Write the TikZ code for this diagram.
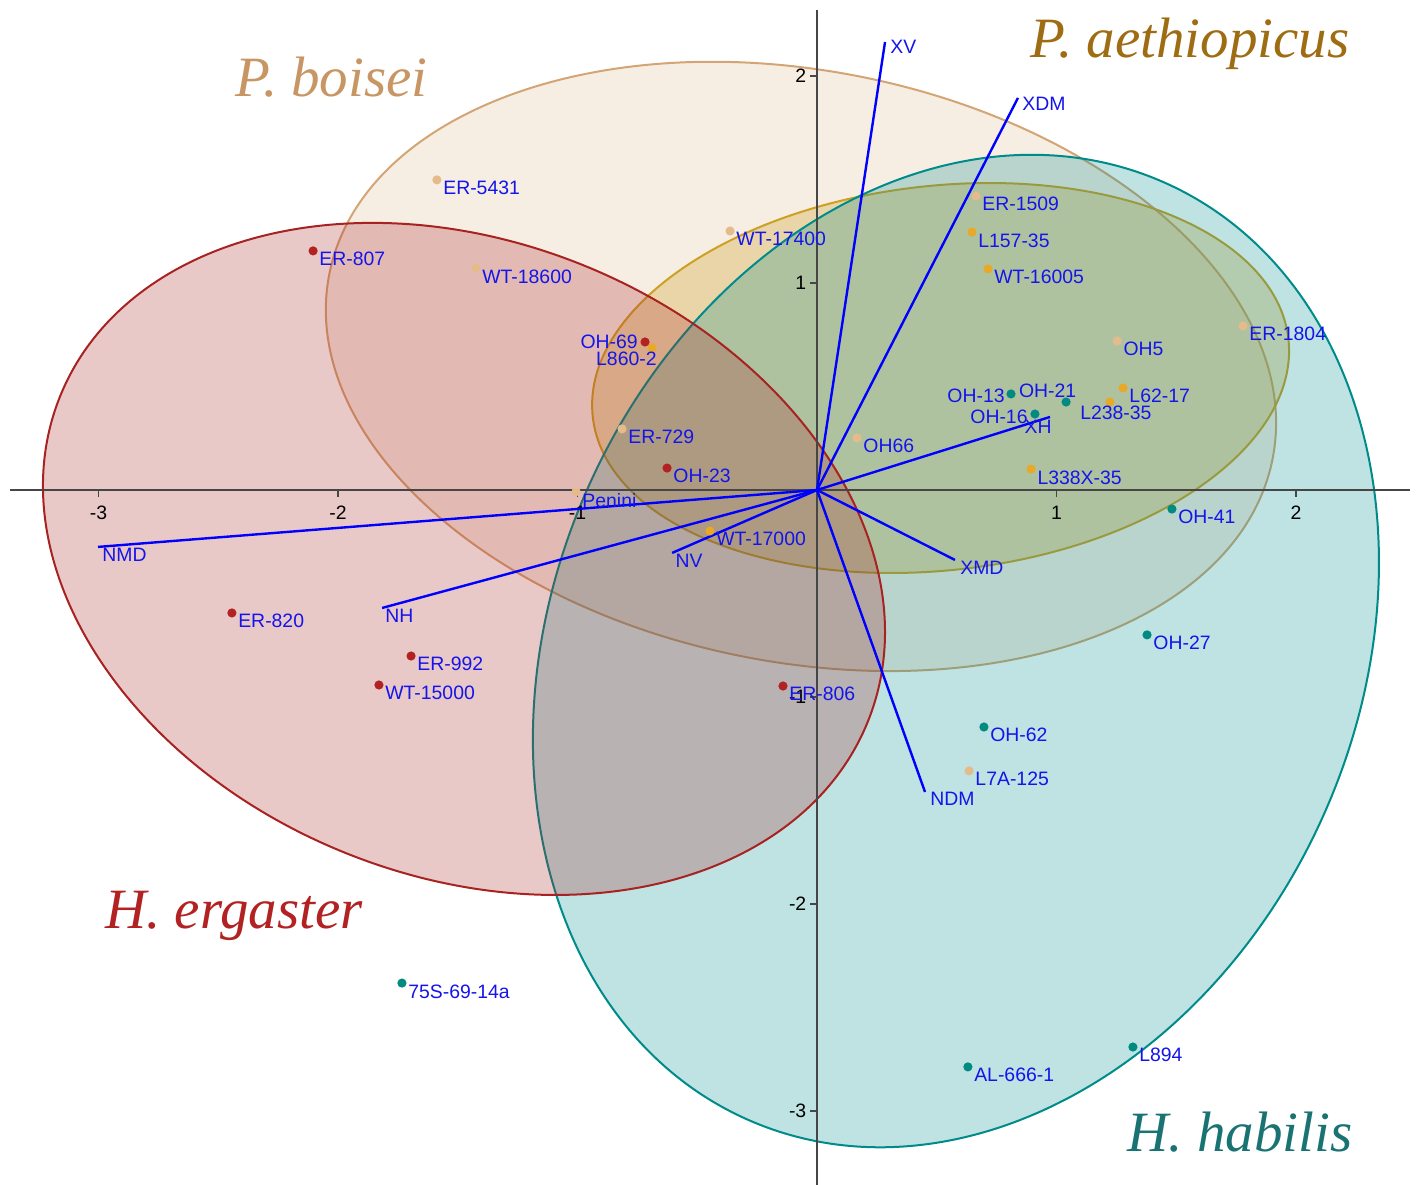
\documentclass[tikz,border=0pt]{standalone}
\usepackage{fontspec}
\setmainfont{Liberation Serif}
\setsansfont{Liberation Sans}

\definecolor{ergline}{RGB}{168,34,34}
\definecolor{ergdot}{RGB}{178,34,34}
\definecolor{boisline}{RGB}{212,165,116}
\definecolor{boisdot}{RGB}{228,188,140}
\definecolor{aethline}{RGB}{205,160,35}
\definecolor{aethdot}{RGB}{232,168,40}
\definecolor{habline}{RGB}{0,139,139}
\definecolor{habdot}{RGB}{0,138,128}
\definecolor{nameblue}{RGB}{20,20,235}
\definecolor{vecblue}{RGB}{0,0,255}
\definecolor{axisgray}{RGB}{70,70,70}
\definecolor{boistext}{RGB}{200,150,100}
\definecolor{aethtext}{RGB}{158,108,18}
\definecolor{ergtext}{RGB}{178,34,34}
\definecolor{habtext}{RGB}{26,115,115}

\begin{document}
\begin{tikzpicture}[x=119.75pt, y=103.5pt,
    specimen/.style={circle, fill=#1, inner sep=0pt, minimum size=4.6pt},
    specname/.style={text=nameblue, font=\sffamily\fontsize{9.7}{11}\selectfont, inner sep=0.5pt},
    ticklbl/.style={font=\sffamily\fontsize{9.7}{11}\selectfont, inner sep=0.5pt},
    axisline/.style={draw=axisgray, line width=0.75pt},
    loading/.style={draw=vecblue, line width=1.2pt},
    group/.style={draw=#1, line width=1pt, fill=#1},
    taxon/.style={text=#1, font=\itshape\fontsize{28.5}{30}\selectfont, anchor=base, inner sep=0pt}]

\useasboundingbox (-3.4113,-3.3575) rectangle (2.5010,2.3671);

% group ellipses
\draw[group=boisline, fill opacity=0.2, rotate around={-11.05:(-0.067,0.597)}]
    (-0.067,0.597) ellipse [x radius=240.3pt, y radius=147.9pt];
\draw[group=aethline, fill opacity=0.3, rotate around={6.4:(0.516,0.541)}]
    (0.516,0.541) ellipse [x radius=175pt, y radius=96.1pt];
\draw[group=habline, fill opacity=0.25, rotate around={65.9:(0.580,-0.778)}]
    (0.580,-0.778) ellipse [x radius=256.4pt, y radius=201.3pt];
\draw[group=ergline, fill opacity=0.25, rotate around={-21.9:(-1.474,-0.333)}]
    (-1.474,-0.333) ellipse [x radius=217.7pt, y radius=158.5pt];

% axes
\draw[axisline] (-3.3695,0) -- (2.476,0);
\draw[axisline] (0,-3.3575) -- (0,2.319);
\foreach \t in {-3,-2,-1,1,2}
    \draw[axisline] (\t,0) -- ++(0,-3.5pt) node[ticklbl, anchor=north, yshift=-3.5pt] (xt\t) {\t};
\foreach \t in {-3,-2,-1,1,2}
    \draw[axisline] (0,\t) -- ++(-3.5pt,0) node[ticklbl, anchor=east, xshift=-1pt] (yt\t) {\t};

% variable vectors
\coordinate (O) at (0,0);
\foreach \v/\x/\y/\a/\dx/\dy in {XV/0.284/2.164/north west/2pt/1.5pt,
        XDM/0.839/1.894/north west/1.5pt/1pt, XH/0.973/0.353/north east/1.5pt/-1pt,
        XMD/0.576/-0.338/north west/2pt/0pt, NDM/0.451/-1.459/north west/2pt/0.5pt,
        NV/-0.605/-0.304/north west/1pt/0pt, NH/-1.816/-0.570/north west/1pt/0pt,
        NMD/-3.002/-0.275/north west/1.5pt/0pt}{
    \coordinate (\v) at (\x,\y);
    \draw[loading] (O) -- (\v);
    \node[specname, anchor=\a] (\v-t) at ([shift={(\dx,\dy)}]\v) {\v};
}

% H. ergaster
\foreach \n/\x/\y/\a/\dx/\dy in {ER-807/-2.104/1.155/north west/2.5pt/0pt,
        OH-69/-0.718/0.715/east/-3pt/0pt, OH-23/-0.626/0.106/north west/2.5pt/0pt,
        ER-820/-2.443/-0.594/north west/2.5pt/0pt, ER-992/-1.695/-0.802/north west/2.5pt/0pt,
        WT-15000/-1.829/-0.942/north west/2.5pt/0pt, ER-806/-0.142/-0.947/north west/2.5pt/0pt}{
    \node[specimen=ergdot] (\n) at (\x,\y) {};
    \node[specname, anchor=\a] (\n-t) at ([shift={(\dx,\dy)}]\n.center) {\n};
}

% P. boisei
\foreach \n/\x/\y/\a/\dx/\dy in {ER-5431/-1.587/1.498/north west/2.5pt/0pt,
        WT-18600/-1.424/1.072/north west/2.5pt/0pt, WT-17400/-0.363/1.251/north west/2.5pt/0pt,
        ER-1509/0.664/1.420/north west/2.5pt/0pt, ER-1804/1.779/0.792/north west/2.5pt/0pt,
        OH5/1.253/0.720/north west/2.5pt/0pt, ER-729/-0.814/0.295/north west/2.5pt/0pt,
        OH66/0.167/0.251/north west/2.5pt/0pt, Penini/-1.006/-0.008/north west/2.5pt/0pt,
        L7A-125/0.635/-1.357/north west/2.5pt/0pt}{
    \node[specimen=boisdot] (\n) at (\x,\y) {};
    \node[specname, anchor=\a] (\n-t) at ([shift={(\dx,\dy)}]\n.center) {\n};
}

% P. aethiopicus
\foreach \n/\x/\y/\a/\dx/\dy in {L157-35/0.647/1.246/north west/2.5pt/0pt,
        WT-16005/0.714/1.068/north west/2.5pt/0pt, L860-2/-0.689/0.686/north east/3pt/-1.5pt,
        L62-17/1.278/0.493/north west/2.5pt/0pt, L238-35/1.223/0.425/north/3pt/-1.5pt,
        L338X-35/0.894/0.101/north west/2.5pt/0pt, WT-17000/-0.447/-0.198/north west/2.5pt/0pt}{
    \node[specimen=aethdot] (\n) at (\x,\y) {};
    \node[specname, anchor=\a] (\n-t) at ([shift={(\dx,\dy)}]\n.center) {\n};
}

% H. habilis
\foreach \n/\x/\y/\a/\dx/\dy in {OH-13/0.810/0.464/east/-2.5pt/-0.7pt,
        OH-21/1.040/0.425/south/-9.25pt/1.5pt, OH-16/0.910/0.367/east/-3pt/-1.25pt,
        OH-41/1.482/-0.092/north west/2.5pt/0pt, OH-27/1.378/-0.700/north west/2.5pt/0pt,
        OH-62/0.697/-1.145/north west/2.5pt/0pt, 75S-69-14a/-1.733/-2.382/north west/2.5pt/0pt,
        AL-666-1/0.630/-2.787/north west/2.5pt/0pt, L894/1.319/-2.691/north west/2.5pt/0pt}{
    \node[specimen=habdot] (\n) at (\x,\y) {};
    \node[specname, anchor=\a] (\n-t) at ([shift={(\dx,\dy)}]\n.center) {\n};
}

% taxon names
\node[taxon=boistext] (boisei) at (-2.027,1.899) {P. boisei};
\node[taxon=aethtext] (aethiopicus) at (1.557,2.087) {P. aethiopicus};
\node[taxon=ergtext] (ergaster) at (-2.434,-2.116) {H. ergaster};
\node[taxon=habtext] (habilis) at (1.766,-3.198) {H. habilis};
\end{tikzpicture}
\end{document}
